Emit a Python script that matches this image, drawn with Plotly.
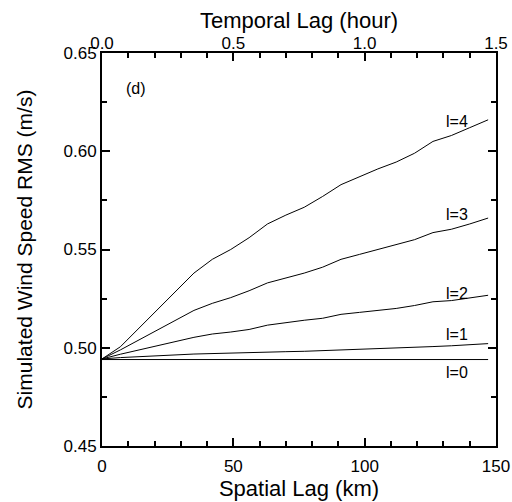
import plotly.graph_objects as go

# --- Data ---
SPATIAL_LAG_KM = [0, 7, 35, 42, 49, 56, 63, 70, 77, 84, 91, 98, 105, 112, 119, 126, 133, 140, 147]

RMS_L0 = [0.4940, 0.4940, 0.4940, 0.4940, 0.4940, 0.4940, 0.4940, 0.4940, 0.4940, 0.4940,
          0.4940, 0.4940, 0.4940, 0.4940, 0.4940, 0.4940, 0.4940, 0.4940, 0.4940]
RMS_L1 = [0.4943, 0.4950, 0.4968, 0.4971, 0.4973, 0.4975, 0.4977, 0.4980, 0.4982, 0.4985,
          0.4988, 0.4991, 0.4994, 0.4997, 0.5001, 0.5006, 0.5010, 0.5015, 0.5021]
RMS_L2 = [0.4943, 0.4967, 0.5053, 0.5070, 0.5080, 0.5093, 0.5115, 0.5128, 0.5140, 0.5150,
          0.5170, 0.5180, 0.5190, 0.5200, 0.5215, 0.5234, 0.5240, 0.5252, 0.5267]
RMS_L3 = [0.4943, 0.4989, 0.5190, 0.5226, 0.5255, 0.5290, 0.5330, 0.5355, 0.5380, 0.5410,
          0.5450, 0.5475, 0.5500, 0.5523, 0.5550, 0.5586, 0.5603, 0.5630, 0.5660]
RMS_L4 = [0.4943, 0.5005, 0.5380, 0.5450, 0.5500, 0.5560, 0.5630, 0.5675, 0.5715, 0.5770,
          0.5830, 0.5870, 0.5910, 0.5945, 0.5990, 0.6050, 0.6080, 0.6120, 0.6160]

SERIES = [RMS_L0, RMS_L1, RMS_L2, RMS_L3, RMS_L4]
LABELS = ["l=0", "l=1", "l=2", "l=3", "l=4"]
LABEL_X = 135
LABEL_Y = [0.4873, 0.5065, 0.5277, 0.5680, 0.6150]

X_RANGE = [0, 150]
Y_RANGE = [0.45, 0.65]
TEMPORAL_RANGE = [0, 1.5]

FONT = "Liberation Sans, Arial, sans-serif"


def main():
    fig = go.Figure()

    for values, name in zip(SERIES, LABELS):
        fig.add_trace(go.Scatter(
            x=SPATIAL_LAG_KM, y=values, name=name, mode="lines",
            line=dict(color="black", width=1), showlegend=False,
        ))

    # invisible helper so the top (temporal) axis gets drawn
    fig.add_trace(go.Scatter(
        x=TEMPORAL_RANGE, y=[Y_RANGE[0], Y_RANGE[0]], xaxis="x2", mode="lines",
        line=dict(width=0), opacity=0, hoverinfo="skip", showlegend=False,
    ))

    # curve labels
    for name, ly in zip(LABELS, LABEL_Y):
        fig.add_annotation(x=LABEL_X, y=ly, text=name, showarrow=False,
                           font=dict(size=16, color="black", family=FONT))
    fig.add_annotation(x=13, y=0.632, text="(d)", showarrow=False,
                       font=dict(size=16, color="black", family=FONT))

    axis_common = dict(
        showgrid=False, zeroline=False, showline=True, linecolor="black", linewidth=2,
        ticks="inside", ticklen=8, tickwidth=1.5, tickcolor="black", automargin=False,
        tickfont=dict(size=17, color="black", family=FONT),
    )
    minor_common = dict(ticks="inside", ticklen=5, tickwidth=1.5, tickcolor="black", showgrid=False)

    fig.update_layout(
        width=512, height=502,
        margin=dict(l=102, r=16, t=53, b=56),
        plot_bgcolor="white", paper_bgcolor="white",
        font=dict(family=FONT, color="black"),
        xaxis=dict(
            **axis_common, range=X_RANGE, tickmode="linear", dtick=50, tick0=0,
            ticklabelstandoff=4,
            minor=dict(tickmode="linear", dtick=10, tick0=0, **minor_common),
            title=dict(text="Spatial Lag (km)", font=dict(size=22, family=FONT), standoff=0),
        ),
        xaxis2=dict(
            **axis_common, range=TEMPORAL_RANGE, tickmode="linear", dtick=0.5, tick0=0,
            tickformat=".1f", overlaying="x", side="top", anchor="y",
            ticklabelstandoff=-5,
            minor=dict(tickmode="linear", dtick=0.1, tick0=0, **minor_common),
            title=dict(text="Temporal Lag (hour)", font=dict(size=22, family=FONT), standoff=0),
        ),
        yaxis=dict(
            **axis_common, range=Y_RANGE, dtick=0.05, tick0=0.45, tickformat=".2f", mirror="ticks",
            minor=dict(dtick=0.025, **minor_common),
            title=dict(text="Simulated Wind Speed RMS (m/s)", font=dict(size=21, family=FONT), standoff=25),
        ),
    )

    # drop the default body margin so the figure sits at the window's corner
    fig.write_html("out.html", config={"displayModeBar": False},
                   post_script="document.body.style.margin = '0px';")


if __name__ == "__main__":
    main()
